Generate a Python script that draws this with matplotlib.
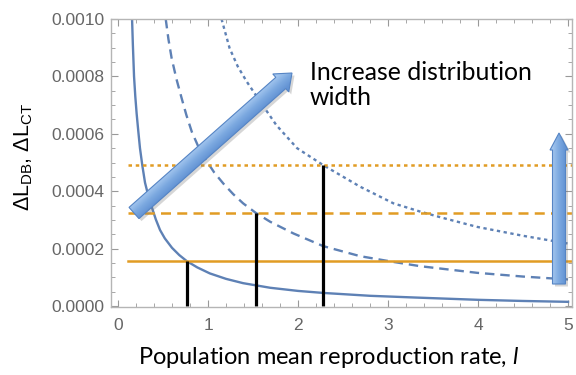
import numpy as np
import matplotlib.pyplot as plt
from matplotlib.patches import FancyArrow
from matplotlib.colors import LinearSegmentedColormap
from matplotlib.ticker import MultipleLocator, FormatStrFormatter

plt.rcParams['mathtext.fontset'] = 'custom'
plt.rcParams['mathtext.rm'] = 'Liberation Sans'
plt.rcParams['mathtext.it'] = 'Lato:italic'

# loss curves for three distribution widths (narrow -> wide)
r_narrow = [0.156, 0.165, 0.178, 0.192, 0.207, 0.225, 0.244, 0.27, 0.30, 0.34, 0.374,
            0.42, 0.467, 0.52, 0.60, 0.68, 0.763, 0.88, 1.02, 1.2, 1.39, 1.69, 2.0,
            2.28, 2.8, 3.3, 4.0, 4.5, 5.0]
L_narrow = [0.001, 0.00091, 0.0008, 0.00073, 0.00067, 0.00061, 0.00055, 0.00049,
            0.00043, 0.00038, 0.000346, 0.000302, 0.000265, 0.000236, 0.000203,
            0.000178, 0.000157, 0.000135, 0.000114, 0.000095, 0.00008, 0.000064,
            0.000053, 0.000046, 0.000036, 0.00003, 0.000022, 0.000018, 0.000015]

r_mid = [0.53, 0.56, 0.596, 0.65, 0.707, 0.76, 0.82, 0.90, 0.985, 1.07, 1.17, 1.28,
         1.39, 1.53, 1.69, 1.95, 2.28, 2.69, 3.06, 3.36, 3.99, 4.5, 5.0]
L_mid = [0.001, 0.00093, 0.000863, 0.00079, 0.000724, 0.000665, 0.000607, 0.00055,
         0.000505, 0.000465, 0.000427, 0.00039, 0.000358, 0.000325, 0.000294,
         0.000253, 0.000209, 0.000174, 0.000154, 0.000139, 0.000116, 0.000103,
         0.000093]

r_wide = [1.15, 1.24, 1.33, 1.43, 1.58, 1.76, 1.99, 2.28, 2.69, 3.06, 3.36, 3.6, 3.99,
          4.5, 5.0]
L_wide = [0.001, 0.000898, 0.000835, 0.000782, 0.000712, 0.00063, 0.00055, 0.000491,
          0.000416, 0.000358, 0.000329, 0.000308, 0.000276, 0.000245, 0.000218]

# thresholds and their crossing points
thresholds = [0.000157, 0.000325, 0.000491]
crossings = [0.763, 1.53, 2.28]
styles = ['-', (0, (4, 2.5)), (0, (1.4, 1.5))]

blue = '#5E81B5'
orange = '#E19C24'

fig = plt.figure(figsize=(5.76, 3.75), dpi=100)
ax = fig.add_axes([111 / 576, 1 - 307 / 375, 461 / 576, 288 / 375])

for r, L, ls in zip([r_narrow, r_mid, r_wide], [L_narrow, L_mid, L_wide], styles):
    ax.plot(r, L, color=blue, lw=1.7, ls=ls)

for level, ls in zip(thresholds, styles):
    ax.plot([0.11, 5.1], [level, level], color=orange, lw=1.8, ls=ls)

for xc, level in zip(crossings, thresholds):
    ax.plot([xc, xc], [0, level], color='black', lw=2.3, solid_capstyle='butt')

ax.set_xlim(-0.078, 5.044)
ax.set_ylim(-0.000003, 0.001)
ax.xaxis.set_major_locator(MultipleLocator(1))
ax.xaxis.set_minor_locator(MultipleLocator(0.2))
ax.yaxis.set_major_locator(MultipleLocator(0.0002))
ax.yaxis.set_minor_locator(MultipleLocator(0.00005))
ax.yaxis.set_major_formatter(FormatStrFormatter('%.4f'))
ax.tick_params(which='both', direction='in', top=True, right=True,
               color='#999999', labelcolor='#666666', labelsize=12.5)
ax.tick_params(which='major', length=5, width=0.8)
ax.tick_params(which='minor', length=3, width=0.6)
ax.tick_params(axis='x', which='both', labeltop=False, pad=8)
ax.tick_params(axis='y', which='both', labelright=False, pad=5)
for s in ax.spines.values():
    s.set_color('#b5b5b5')
    s.set_linewidth(1.0)
for lbl in ax.get_xticklabels() + ax.get_yticklabels():
    lbl.set_family('Liberation Sans')

fig.text(138 / 576, 1 - 358 / 375, r'Population mean reproduction rate, $\mathit{l}$',
         family='Lato', fontsize=17, ha='left', va='center')
fig.text(24 / 576, 1 - 157 / 375,
         r'$\Delta\mathrm{L}_{\mathrm{DB}}$, $\Delta\mathrm{L}_{\mathrm{CT}}$',
         family='Liberation Sans', fontsize=15.5, rotation=90, ha='center', va='center')
fig.text(310 / 576, 1 - 85 / 375, 'Increase distribution\nwidth', family='Lato',
         fontsize=17.8, ha='left', va='center', linespacing=1.1)

# overlay in pixel units for the shaded annotation arrows
ov = fig.add_axes([0, 0, 1, 1], zorder=5)
ov.axis('off')
shade = LinearSegmentedColormap.from_list('shade', ['#A2C5EE', '#7CA9E0', '#6393D4'])

def shaded_arrow(x0, y0, x1, y1, w, hw, hl):
    dx, dy = x1 - x0, y1 - y0
    shadow = FancyArrow(x0 + 2.5, y0 + 2.5, dx, dy, width=w, head_width=hw,
                        head_length=hl, length_includes_head=True,
                        color='#7a7a7a', alpha=0.3, lw=0)
    ov.add_patch(shadow)
    arrow = FancyArrow(x0, y0, dx, dy, width=w, head_width=hw, head_length=hl,
                       length_includes_head=True, facecolor='none',
                       edgecolor='#5584C4', lw=0.8, zorder=3)
    ov.add_patch(arrow)
    # colour across the arrow: light on the upper/left side, darker on the other
    n = np.hypot(dx, dy)
    nx, ny = -dy / n, dx / n
    gx, gy = np.meshgrid(np.arange(0, 576) + 0.5, np.arange(0, 375) + 0.5)
    d = (gx - x0) * nx + (gy - y0) * ny
    val = np.clip(0.5 + d / w, 0, 1)
    im = ov.imshow(val, cmap=shade, extent=(0, 576, 375, 0), origin='upper',
                   vmin=0, vmax=1, zorder=2, interpolation='bilinear')
    im.set_clip_path(arrow)

shaded_arrow(134, 213, 292, 73, 15, 24, 15)
shaded_arrow(559, 284, 559, 133, 13, 18, 17)
ov.set_xlim(0, 576)
ov.set_ylim(375, 0)

fig.savefig('out.png', dpi=100)
